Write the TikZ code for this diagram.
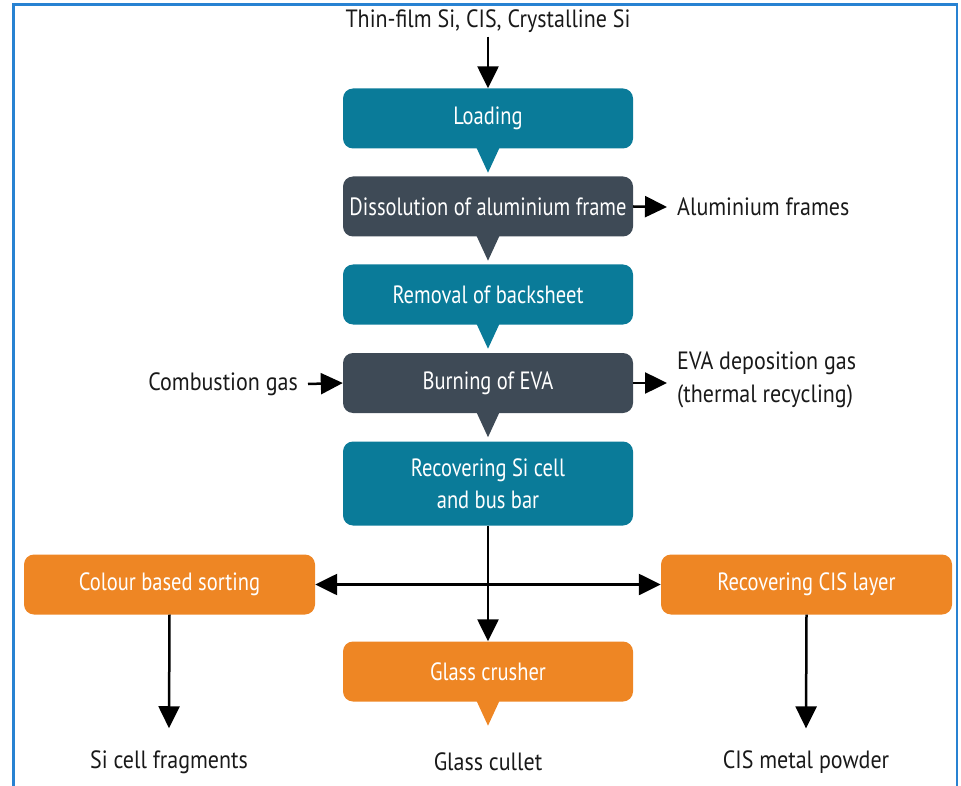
\documentclass[tikz,border=0pt]{standalone}
\usepackage{fontspec}
\setmainfont[FakeStretch=0.82]{PT Sans}
\newfontfamily\boxfont[FakeStretch=0.82]{PT Sans}
\newfontfamily\lblfont[FakeStretch=0.88]{PT Sans}
\usetikzlibrary{arrows.meta}
\definecolor{teal1}{RGB}{10,123,153}
\definecolor{slate1}{RGB}{62,74,86}
\definecolor{orange1}{RGB}{238,134,36}
\definecolor{frame1}{RGB}{40,130,210}
\definecolor{ink}{RGB}{25,25,25}
\tikzset{
  box/.style={rounded corners=10pt, minimum width=290pt, minimum height=60pt, inner sep=0pt,
    text=white, font=\boxfont\fontsize{25}{32}\selectfont, align=center},
  tealbox/.style={box, fill=teal1},
  slatebox/.style={box, fill=slate1},
  orangebox/.style={box, fill=orange1},
  lbl/.style={text=ink, font=\lblfont\fontsize{25}{33}\selectfont, inner sep=0pt},
  arr/.style={draw=black, line width=2.5pt, -{Triangle[length=22pt,width=21pt]}},
  darr/.style={draw=black, line width=2.5pt, {Triangle[length=22pt,width=21pt]}-{Triangle[length=22pt,width=21pt]}},
}
\newcommand{\pointer}[2]{\fill[#1] ([xshift=-12pt,yshift=2pt]#2.south) -- ([xshift=12pt,yshift=2pt]#2.south) -- ([yshift=-24pt]#2.south) -- cycle;}
\begin{document}
\begin{tikzpicture}[x=1pt,y=-1pt]
\useasboundingbox (0,0) rectangle (961,786);
\draw[frame1, line width=2.5pt] (13.5,800) -- (13.5,4.5) -- (957,4.5) -- (957,800);

\node[lbl] (src) at (488,21) {Thin-film Si, CIS, Crystalline Si};
\node[tealbox] (load) at (488,118.5) {Loading};
\node[slatebox] (diss) at (488,206.5) {Dissolution of aluminium frame};
\node[tealbox] (rem) at (488,294.5) {Removal of backsheet};
\node[slatebox] (burn) at (488,383) {Burning of EVA};
\node[tealbox, minimum height=84pt] (recsi) at (488,483.5) {Recovering Si cell\\and bus bar};
\node[orangebox, minimum width=291pt] (col) at (169.5,584.5) {Colour based sorting};
\node[orangebox, minimum width=291pt] (cis) at (806.5,584.5) {Recovering CIS layer};
\node[orangebox] (glass) at (488,671.5) {Glass crusher};

\pointer{teal1}{load}
\pointer{slate1}{diss}
\pointer{teal1}{rem}
\pointer{slate1}{burn}
\pointer{orange1}{glass}

\node[lbl, anchor=west] (alu) at (677,207) {Aluminium frames};
\node[lbl, anchor=east] (comb) at (298,384) {Combustion gas};
\node[lbl, anchor=west, align=left] (eva) at (677,380) {EVA deposition gas\\(thermal recycling)};
\node[lbl] (sifrag) at (169,762) {Si cell fragments};
\node[lbl] (cullet) at (488,762) {Glass cullet};
\node[lbl] (powder) at (806,762) {CIS metal powder};

\draw[arr] (src.south) ++(0,4) -- (load.north);
\draw[arr] (diss.east) -- ([xshift=-10pt]alu.west);
\draw[arr] ([xshift=10pt]comb.east) -- (burn.west);
\draw[arr] (burn.east) -- ([xshift=-10pt]eva.west |- burn.east);
\draw[arr] (recsi.south) -- (glass.north);
\draw[darr] (col.east) -- (cis.west);
\draw[arr] (col.south) -- ([yshift=22pt]sifrag.north);
\draw[arr] (cis.south) -- ([yshift=22pt]powder.north);
\end{tikzpicture}
\end{document}
